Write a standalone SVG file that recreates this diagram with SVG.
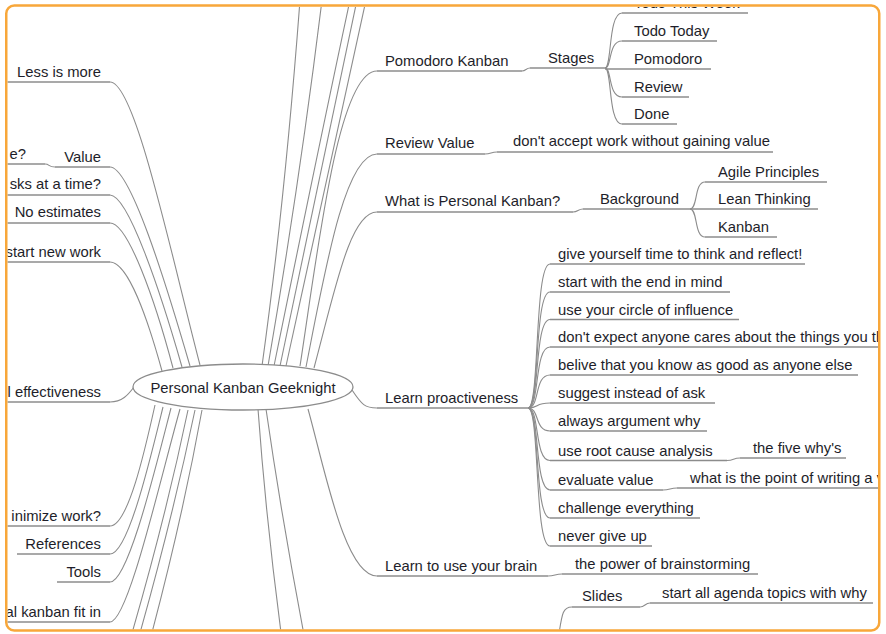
<svg xmlns="http://www.w3.org/2000/svg" width="886" height="634" viewBox="0 0 886 634">
<style>
text{font-family:"Liberation Sans",Arial,sans-serif;font-size:14.8px;fill:#1e1e2a}
.l{text-anchor:end}
.u{stroke:#8c8c8c;stroke-width:1.3;fill:none}
#connectors path{stroke:#8c8c8c;stroke-width:1.1;fill:none}
</style>
<defs>
<clipPath id="frame"><rect x="7.5" y="7" width="870.5" height="622.5" rx="7"/></clipPath>
</defs>
<rect x="0" y="0" width="886" height="634" fill="#ffffff"/>
<g clip-path="url(#frame)">
<g id="connectors">
<path d="M262 366 Q285 200 300 0"/>
<path d="M268 366 Q300 180 322 0"/>
<path d="M274 366 Q318 150 350 0"/>
<path d="M280 366 Q325 150 357 0"/>
<path d="M286 366 Q333 150 366 0"/>
<path d="M300 366 C318 250 338 71 377 71"/>
<path d="M306 367 C325 270 345 154 377 154"/>
<path d="M314 368 C335 290 350 212 377 212"/>
<path d="M352 390 C362 405 365 408 377 408"/>
<path d="M308 409 C325 470 345 576 377 576"/>
<path d="M258 409 Q266 520 282 640"/>
<path d="M266 409 Q282 520 305 640"/>
<path d="M110 82 C135 82 170 250 200 365"/>
<path d="M110 167 C130 167 165 280 190 366"/>
<path d="M110 195 C128 195 160 290 182 367"/>
<path d="M110 223 C128 223 155 300 173 368"/>
<path d="M110 262 C128 262 148 320 162 371"/>
<path d="M110 402 C122 402 128 395 134 387"/>
<path d="M110 526 C128 526 145 450 155 405"/>
<path d="M110 554 C128 554 150 460 163 407"/>
<path d="M110 582 C128 582 155 470 171 408"/>
<path d="M110 622 C128 622 160 480 180 409"/>
<path d="M188 410 Q165 520 130 640"/>
<path d="M195 410 Q172 520 138 640"/>
<path d="M202 410 Q182 520 150 640"/>
<path d="M45 164 C50 164 48 167 55 167"/>
<path d="M522 71 C526 71 526 68 530 68"/>
<path d="M605 68 C612 68 608 13 622 13"/>
<path d="M605 68 C612 68 608 41 622 41"/>
<path d="M605 68 C612 68 608 97 622 97"/>
<path d="M605 68 C612 68 608 124 622 124"/>
<path d="M485 154 C491 154 491 152 497 152"/>
<path d="M573 212 C578 212 578 209 583 209"/>
<path d="M690 209 C698 209 694 182 705 182"/>
<path d="M690 209 C698 209 694 237 705 237"/>
<path d="M528 408 C540 408 534 264 550 264"/>
<path d="M528 408 C540 408 534 292 550 292"/>
<path d="M528 408 C540 408 534 319.5 550 319.5"/>
<path d="M528 408 C540 408 534 347 550 347"/>
<path d="M528 408 C540 408 534 375 550 375"/>
<path d="M528 408 C540 408 534 403 550 403"/>
<path d="M528 408 C540 408 534 431 550 431"/>
<path d="M528 408 C540 408 534 460.5 550 460.5"/>
<path d="M528 408 C540 408 534 490 550 490"/>
<path d="M528 408 C540 408 534 518 550 518"/>
<path d="M528 408 C540 408 534 546 550 546"/>
<path d="M727 460.5 C734 460.5 733 458 740 458"/>
<path d="M663 490 C670 490 670 488 677 488"/>
<path d="M548 576 C555 576 555 574 562 574"/>
<path d="M640 607 C645 607 645 603 650 603"/>
<path d="M572 607 C562 607 562 615 558 640"/>
</g>
<g id="center">
<ellipse cx="243" cy="387" rx="110" ry="23" fill="#ffffff" stroke="#8c8c8c" stroke-width="1.3"/>
<text x="243" y="393" text-anchor="middle">Personal Kanban Geeknight</text>
</g>
<g id="n-less"><text class="l" x="101" y="77">Less is more</text><line class="u" x1="0" y1="82" x2="110" y2="82"/></g>
<g id="n-value-child"><text class="l" x="26" y="159">e?</text><line class="u" x1="0" y1="164" x2="45" y2="164"/></g>
<g id="n-value"><text class="l" x="101" y="162">Value</text><line class="u" x1="55" y1="167" x2="110" y2="167"/></g>
<g id="n-tasks"><text class="l" x="101" y="189">sks at a time?</text><line class="u" x1="0" y1="195" x2="110" y2="195"/></g>
<g id="n-estimates"><text class="l" x="101" y="217">No estimates</text><line class="u" x1="0" y1="223" x2="110" y2="223"/></g>
<g id="n-start"><text class="l" x="101" y="257">start new work</text><line class="u" x1="0" y1="262" x2="110" y2="262"/></g>
<g id="n-effect"><text class="l" x="101" y="397">l effectiveness</text><line class="u" x1="0" y1="402" x2="110" y2="402"/></g>
<g id="n-minimize"><text class="l" x="101" y="521">inimize work?</text><line class="u" x1="0" y1="526" x2="110" y2="526"/></g>
<g id="n-references"><text class="l" x="101" y="549">References</text><line class="u" x1="17" y1="554" x2="110" y2="554"/></g>
<g id="n-tools"><text class="l" x="101" y="577">Tools</text><line class="u" x1="57" y1="582" x2="110" y2="582"/></g>
<g id="n-fit"><text class="l" x="101" y="617">al kanban fit in</text><line class="u" x1="0" y1="622" x2="110" y2="622"/></g>
<g id="n-pomodoro-kanban"><text x="385" y="66">Pomodoro Kanban</text><line class="u" x1="377" y1="71" x2="522" y2="71"/></g>
<g id="n-stages"><text x="548" y="63">Stages</text><line class="u" x1="530" y1="68" x2="605" y2="68"/></g>
<g id="n-week"><text x="634" y="8">Todo This Week</text><line class="u" x1="622" y1="13" x2="748" y2="13"/></g>
<g id="n-today"><text x="634" y="36">Todo Today</text><line class="u" x1="622" y1="41" x2="717" y2="41"/></g>
<g id="n-pomodoro"><text x="634" y="64">Pomodoro</text><line class="u" x1="605" y1="69" x2="711" y2="69"/></g>
<g id="n-review"><text x="634" y="92">Review</text><line class="u" x1="622" y1="97" x2="689" y2="97"/></g>
<g id="n-done"><text x="634" y="119">Done</text><line class="u" x1="622" y1="124" x2="677" y2="124"/></g>
<g id="n-review-value"><text x="385" y="148">Review Value</text><line class="u" x1="377" y1="154" x2="485" y2="154"/></g>
<g id="n-dont-accept"><text x="513" y="146">don't accept work without gaining value</text><line class="u" x1="497" y1="152" x2="773" y2="152"/></g>
<g id="n-what-is"><text x="385" y="206">What is Personal Kanban?</text><line class="u" x1="377" y1="212" x2="573" y2="212"/></g>
<g id="n-background"><text x="600" y="204">Background</text><line class="u" x1="583" y1="209" x2="690" y2="209"/></g>
<g id="n-agile"><text x="718" y="177">Agile Principles</text><line class="u" x1="705" y1="182" x2="827" y2="182"/></g>
<g id="n-lean"><text x="718" y="204">Lean Thinking</text><line class="u" x1="690" y1="209" x2="818" y2="209"/></g>
<g id="n-kanban"><text x="718" y="232">Kanban</text><line class="u" x1="705" y1="237" x2="777" y2="237"/></g>
<g id="n-proactive"><text x="385" y="403">Learn proactiveness</text><line class="u" x1="377" y1="408" x2="528" y2="408"/></g>
<g id="n-p1"><text x="558" y="259">give yourself time to think and reflect!</text><line class="u" x1="550" y1="264" x2="805" y2="264"/></g>
<g id="n-p2"><text x="558" y="287">start with the end in mind</text><line class="u" x1="550" y1="292" x2="730" y2="292"/></g>
<g id="n-p3"><text x="558" y="314.5">use your circle of influence</text><line class="u" x1="550" y1="319.5" x2="739" y2="319.5"/></g>
<g id="n-p4"><text x="558" y="342">don't expect anyone cares about the things you th</text><line class="u" x1="550" y1="347" x2="886" y2="347"/></g>
<g id="n-p5"><text x="558" y="370">belive that you know as good as anyone else</text><line class="u" x1="550" y1="375" x2="858" y2="375"/></g>
<g id="n-p6"><text x="558" y="398">suggest instead of ask</text><line class="u" x1="550" y1="403" x2="715" y2="403"/></g>
<g id="n-p7"><text x="558" y="426">always argument why</text><line class="u" x1="550" y1="431" x2="707" y2="431"/></g>
<g id="n-p8"><text x="558" y="455.5">use root cause analysis</text><line class="u" x1="550" y1="460.5" x2="727" y2="460.5"/></g>
<g id="n-five-whys"><text x="753" y="453">the five why's</text><line class="u" x1="740" y1="458" x2="846" y2="458"/></g>
<g id="n-p9"><text x="558" y="485">evaluate value</text><line class="u" x1="550" y1="490" x2="663" y2="490"/></g>
<g id="n-point"><text x="690" y="483">what is the point of writing a v</text><line class="u" x1="677" y1="488" x2="886" y2="488"/></g>
<g id="n-p10"><text x="558" y="513">challenge everything</text><line class="u" x1="550" y1="518" x2="700" y2="518"/></g>
<g id="n-p11"><text x="558" y="541">never give up</text><line class="u" x1="550" y1="546" x2="652" y2="546"/></g>
<g id="n-brain"><text x="385" y="571">Learn to use your brain</text><line class="u" x1="377" y1="576" x2="548" y2="576"/></g>
<g id="n-brainstorm"><text x="575" y="569">the power of brainstorming</text><line class="u" x1="562" y1="574" x2="758" y2="574"/></g>
<g id="n-slides"><text x="582" y="601">Slides</text><line class="u" x1="572" y1="607" x2="640" y2="607"/></g>
<g id="n-agenda"><text x="662" y="598">start all agenda topics with why</text><line class="u" x1="650" y1="603" x2="873" y2="603"/></g>
</g>
<rect x="6.25" y="5.5" width="873" height="625" rx="8" fill="none" stroke="#f8a73a" stroke-width="2.5"/>
</svg>
